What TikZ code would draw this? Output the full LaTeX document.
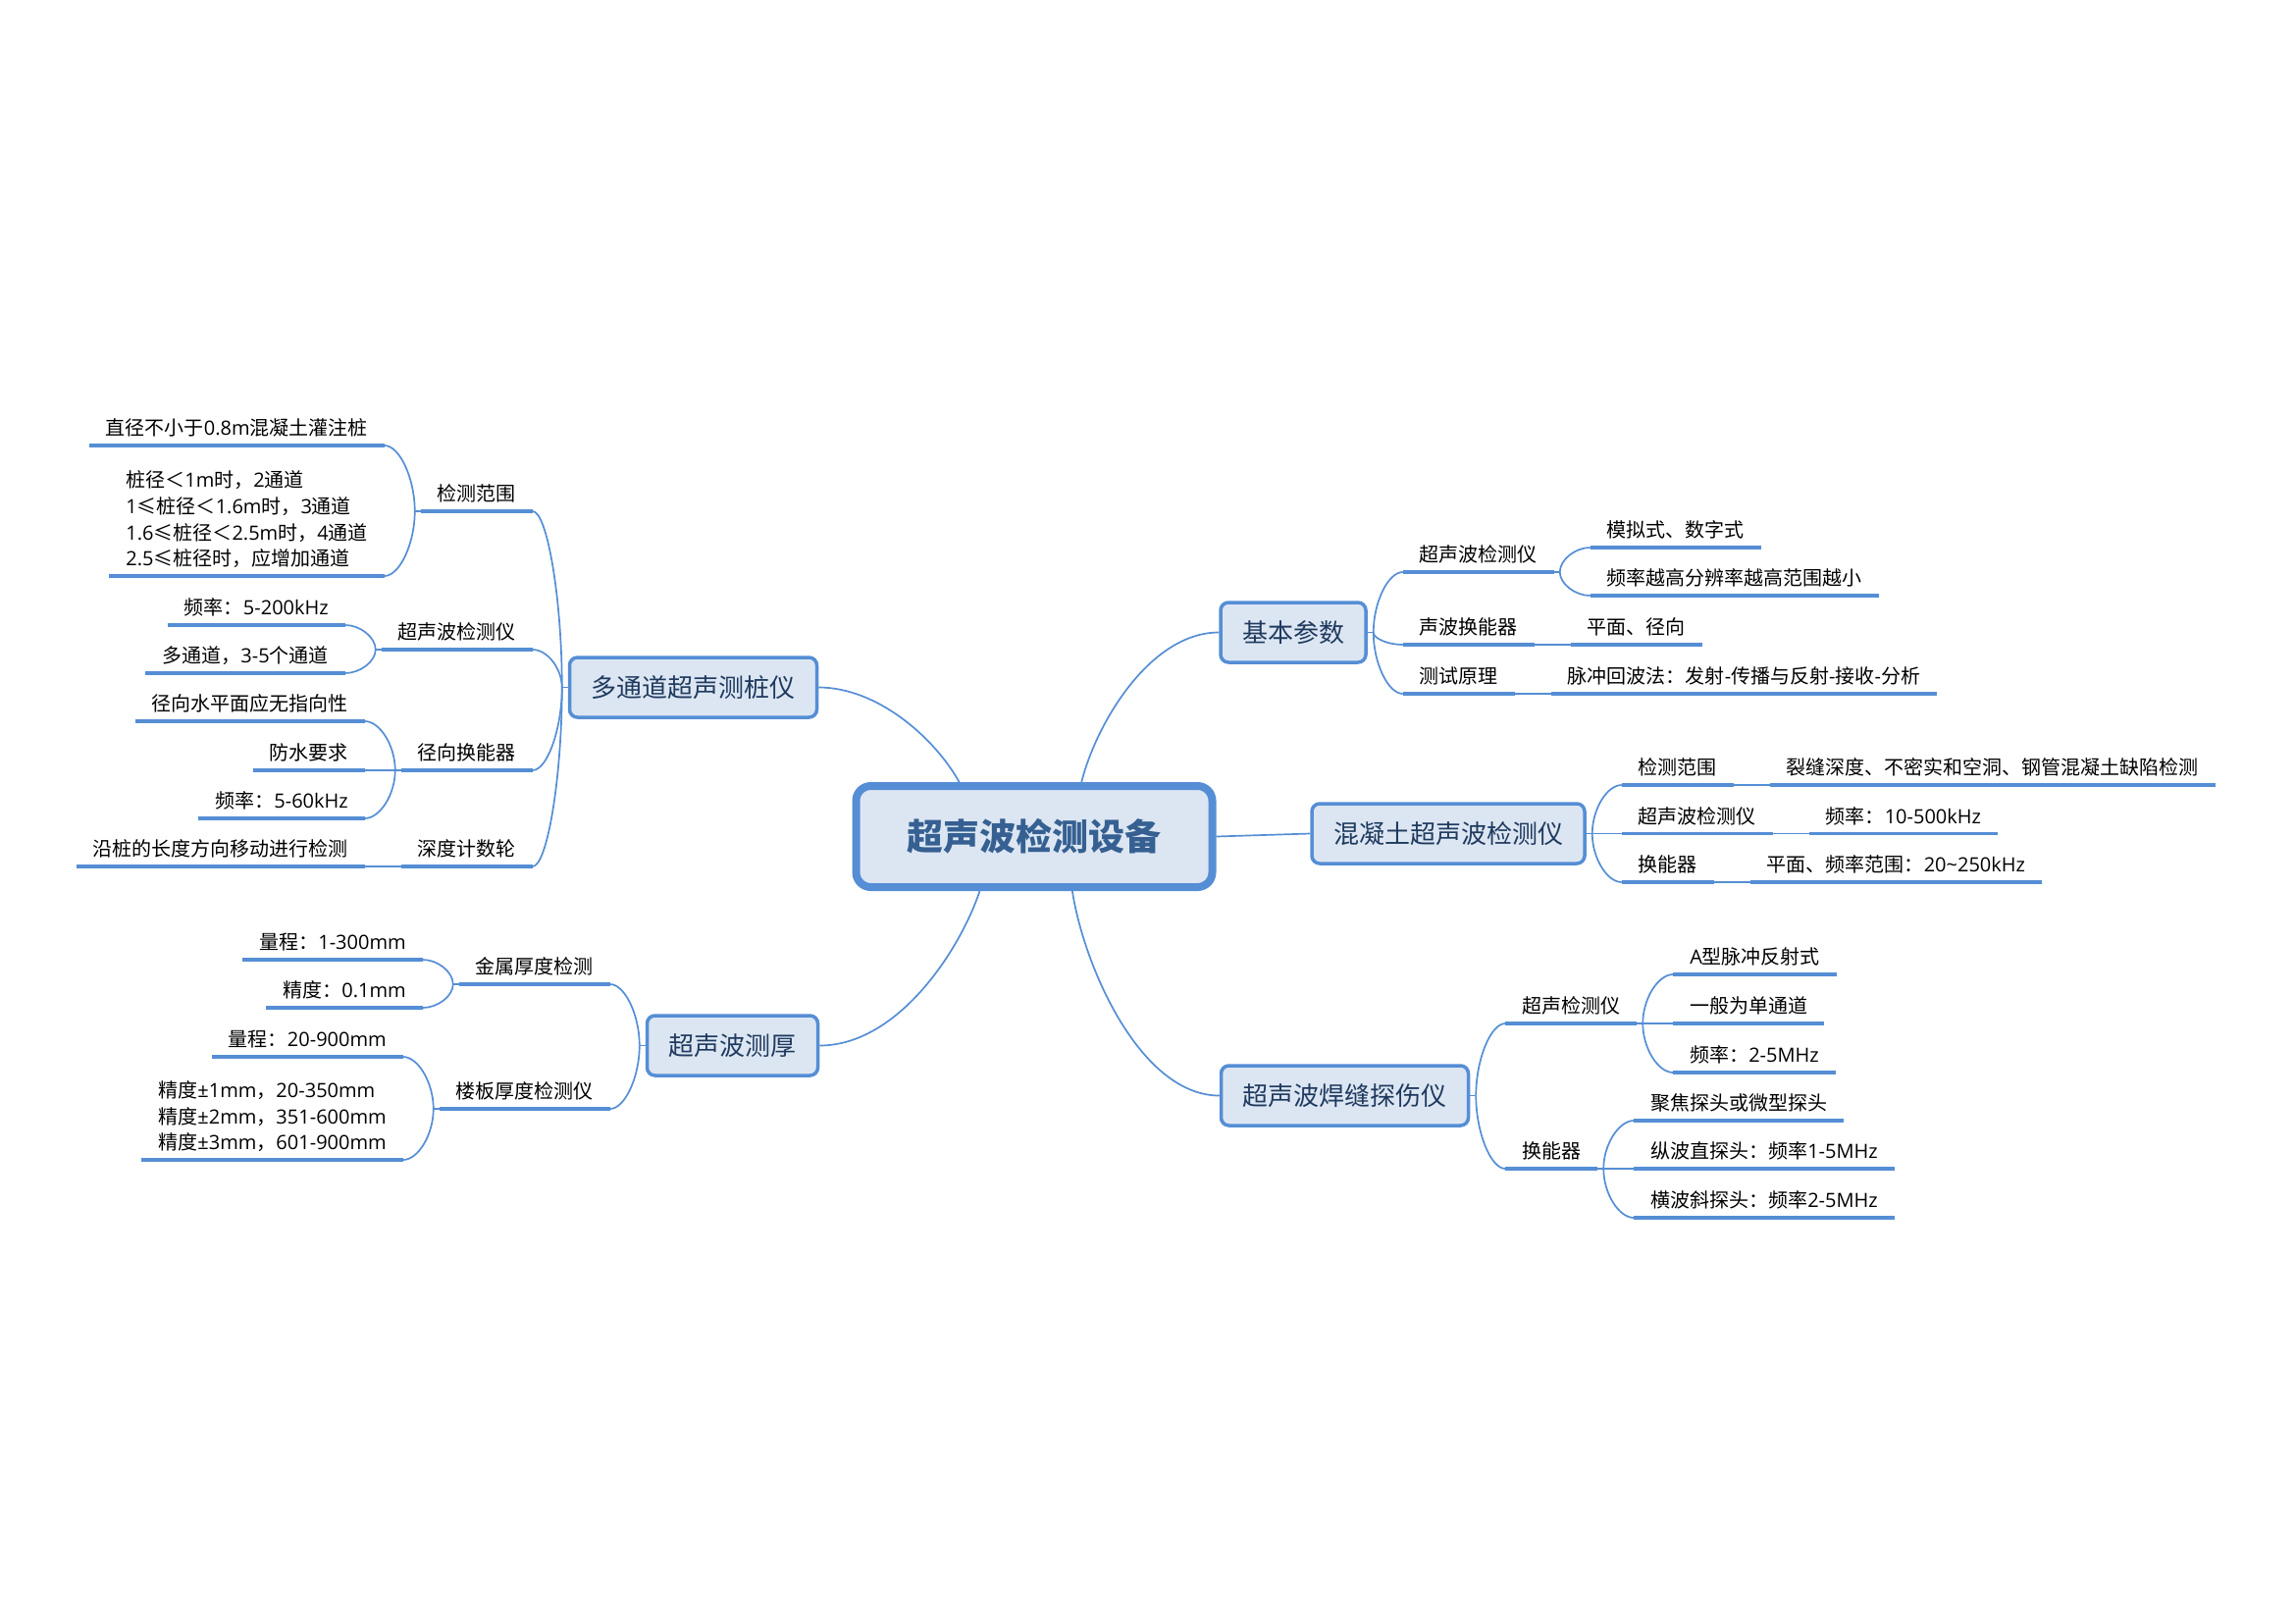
\documentclass[tikz,border=0pt]{standalone}
\usepackage{fontspec}
\setmainfont{Open Sans}
\newfontfamily\latinfont{Open Sans}
\newfontfamily\cjkfont{Noto Sans CJK SC}
% CJK runs in Noto Sans CJK, Latin runs in Open Sans
\XeTeXinterchartokenstate=1
\newXeTeXintercharclass\cjkcls
\newcount\cjkc
\cjkc="4E00 \loop \XeTeXcharclass\cjkc=\cjkcls \advance\cjkc by 1 \ifnum\cjkc<"A000 \repeat
\cjkc="3000 \loop \XeTeXcharclass\cjkc=\cjkcls \advance\cjkc by 1 \ifnum\cjkc<"3040 \repeat
\cjkc="FF00 \loop \XeTeXcharclass\cjkc=\cjkcls \advance\cjkc by 1 \ifnum\cjkc<"FFF0 \repeat
\XeTeXcharclass"2264=\cjkcls
\XeTeXinterchartoks 0 \cjkcls = {\cjkfont}
\XeTeXinterchartoks 4095 \cjkcls = {\cjkfont}
\XeTeXinterchartoks \cjkcls 0 = {\latinfont}
\usepackage{tikz}
\usetikzlibrary{positioning,calc}
\definecolor{m_line}{HTML}{558ED5}
\definecolor{m_fill}{HTML}{DCE6F2}
\definecolor{m_root}{HTML}{366092}
\definecolor{m_topic}{HTML}{1F3A5F}
\newcommand{\mmlink}[2]{\draw[link] (#1) .. controls ($(#1)!.5!(#1 |- #2)$) and ($(#2)!.5!(#1 |- #2)$) .. (#2);}

\begin{document}
\begin{tikzpicture}[
    x=1pt, y=-1pt,
    link/.style={draw=m_line, line width=1.7pt},
    uline/.style={draw=m_line, line width=3.5pt},
    root/.style={draw=m_line, fill=m_fill, line width=8pt, rounded corners=15pt,
        minimum height=103pt, inner xsep=52pt, text=m_root,
        font=\fontsize{37}{44}\selectfont\bfseries},
    topic/.style={draw=m_line, fill=m_fill, line width=3.5pt, rounded corners=8pt,
        minimum height=61pt, inner xsep=22pt, text=m_topic,
        font=\fontsize{26}{31}\selectfont},
    mm/.style={inner xsep=17pt, outer sep=0pt, font=\fontsize{20}{26.7}\selectfont,
        append after command={(\tikzlastnode.south west) edge[uline] (\tikzlastnode.south east)}},
    leaf/.style={mm, inner ysep=6.4pt, text height=15pt, text depth=4pt},
    leafm/.style={mm, inner ysep=8pt, align=left}
]
    \useasboundingbox (0,0) rectangle (2339,1654);

    \node[root] (root) at (1054,852.5) {超声波检测设备};
    \node[topic] (b1) at (706.5,700.5) {多通道超声测桩仪};
    \node[topic] (b2) at (746.5,1065.5) {超声波测厚};
    \node[topic] (b3) at (1318,644.5) {基本参数};
    \node[topic] (b4) at (1476,849.5) {混凝土超声波检测仪};
    \node[topic] (b5) at (1370.5,1116.5) {超声波焊缝探伤仪};

    % 多通道超声测桩仪
    \node[leaf, above left=179.5pt and 36pt of b1.west, anchor=south east] (s11) {检测范围};
    \node[leaf, above left=38.5pt and 36pt of b1.west, anchor=south east] (s12) {超声波检测仪};
    \node[leaf, below left=84.5pt and 36pt of b1.west, anchor=south east] (s13) {径向换能器};
    \node[leaf, below left=182.5pt and 36pt of b1.west, anchor=south east] (s14) {深度计数轮};
    \node[leaf, above left=67pt and 37pt of s11.south west, anchor=south east] (l111) {直径不小于0.8m混凝土灌注桩};
    \node[leafm, below left=66pt and 37pt of s11.south west, anchor=south east] (l112)
        {桩径＜1m时，2通道\\1≤桩径＜1.6m时，3通道\\1.6≤桩径＜2.5m时，4通道\\2.5≤桩径时，应增加通道};
    \node[leaf, above left=25pt and 37pt of s12.south west, anchor=south east] (l121) {频率：5-200kHz};
    \node[leaf, below left=24pt and 37pt of s12.south west, anchor=south east] (l122) {多通道，3-5个通道};
    \node[leaf, above left=50pt and 37pt of s13.south west, anchor=south east] (l131) {径向水平面应无指向性};
    \node[leaf, left=37pt of s13.south west, anchor=south east] (l132) {防水要求};
    \node[leaf, below left=49pt and 37pt of s13.south west, anchor=south east] (l133) {频率：5-60kHz};
    \node[leaf, left=37pt of s14.south west, anchor=south east] (l141) {沿桩的长度方向移动进行检测};

    % 超声波测厚
    \node[leaf, above left=62.5pt and 36pt of b2.west, anchor=south east] (s21) {金属厚度检测};
    \node[leaf, below left=64.5pt and 36pt of b2.west, anchor=south east] (s22) {楼板厚度检测仪};
    \node[leaf, above left=25pt and 37pt of s21.south west, anchor=south east] (l211) {量程：1-300mm};
    \node[leaf, below left=24pt and 37pt of s21.south west, anchor=south east] (l212) {精度：0.1mm};
    \node[leaf, above left=53pt and 37pt of s22.south west, anchor=south east] (l221) {量程：20-900mm};
    \node[leafm, below left=52pt and 37pt of s22.south west, anchor=south east] (l222)
        {精度±1mm，20-350mm\\精度±2mm，351-600mm\\精度±3mm，601-900mm};

    % 基本参数
    \node[leaf, above right=61.5pt and 36pt of b3.east, anchor=south west] (s31) {超声波检测仪};
    \node[leaf, below right=12.5pt and 36pt of b3.east, anchor=south west] (s32) {声波换能器};
    \node[leaf, below right=62.5pt and 36pt of b3.east, anchor=south west] (s33) {测试原理};
    \node[leaf, above right=25pt and 37pt of s31.south east, anchor=south west] (l311) {模拟式、数字式};
    \node[leaf, below right=24pt and 37pt of s31.south east, anchor=south west] (l312) {频率越高分辨率越高范围越小};
    \node[leaf, right=37pt of s32.south east, anchor=south west] (l321) {平面、径向};
    \node[leaf, right=37pt of s33.south east, anchor=south west] (l331) {脉冲回波法：发射-传播与反射-接收-分析};

    % 混凝土超声波检测仪
    \node[leaf, above right=49.5pt and 36pt of b4.east, anchor=south west] (s41) {检测范围};
    \node[leaf, right=36pt of b4.east, anchor=south west] (s42) {超声波检测仪};
    \node[leaf, below right=49.5pt and 36pt of b4.east, anchor=south west] (s43) {换能器};
    \node[leaf, right=37pt of s41.south east, anchor=south west] (l411) {裂缝深度、不密实和空洞、钢管混凝土缺陷检测};
    \node[leaf, right=37pt of s42.south east, anchor=south west] (l421) {频率：10-500kHz};
    \node[leaf, right=37pt of s43.south east, anchor=south west] (l431) {平面、频率范围：20\textasciitilde250kHz};

    % 超声波焊缝探伤仪
    \node[leaf, above right=73.5pt and 36pt of b5.east, anchor=south west] (s51) {超声检测仪};
    \node[leaf, below right=74.5pt and 36pt of b5.east, anchor=south west] (s52) {换能器};
    \node[leaf, above right=50pt and 37pt of s51.south east, anchor=south west] (l511) {A型脉冲反射式};
    \node[leaf, right=37pt of s51.south east, anchor=south west] (l512) {一般为单通道};
    \node[leaf, below right=50pt and 37pt of s51.south east, anchor=south west] (l513) {频率：2-5MHz};
    \node[leaf, above right=49pt and 37pt of s52.south east, anchor=south west] (l521) {聚焦探头或微型探头};
    \node[leaf, right=37pt of s52.south east, anchor=south west] (l522) {纵波直探头：频率1-5MHz};
    \node[leaf, below right=50pt and 37pt of s52.south east, anchor=south west] (l523) {横波斜探头：频率2-5MHz};

    % root to main topics
    \draw[link] (root.144) .. controls +(-25,-45) and +(60,0) .. (b1.east);
    \draw[link] (root.49) .. controls +(15,-60) and +(-70,0) .. (b3.west);
    \draw[link] (root.east) -- (b4.west);
    \draw[link] (root.225) .. controls +(-20,60) and +(80,0) .. (b2.east);
    \draw[link] (root.305) .. controls +(12,78) and +(-80,0) .. (b5.west);

    % main topics to subtopics
    \coordinate (b1j) at ([xshift=-6pt]b1.west);
    \coordinate (b2j) at ([xshift=-6pt]b2.west);
    \coordinate (b3j) at ([xshift=6pt]b3.east);
    \coordinate (b4j) at ([xshift=6pt]b4.east);
    \coordinate (b5j) at ([xshift=6pt]b5.east);
    \draw[link] (b1.west) -- (b1j);
    \draw[link] (b2.west) -- (b2j);
    \draw[link] (b3.east) -- (b3j);
    \draw[link] (b4.east) -- (b4j);
    \draw[link] (b5.east) -- (b5j);
    \foreach \s in {s11,s12,s13,s14} {\mmlink{b1j}{\s.south east}}
    \foreach \s in {s21,s22} {\mmlink{b2j}{\s.south east}}
    \foreach \s in {s31,s32,s33} {\mmlink{b3j}{\s.south west}}
    \foreach \s in {s41,s42,s43} {\mmlink{b4j}{\s.south west}}
    \foreach \s in {s51,s52} {\mmlink{b5j}{\s.south west}}

    % subtopics to leaves
    \foreach \s/\ls in {s11/{l111,l112}, s12/{l121,l122}, s13/{l131,l132,l133},
                        s21/{l211,l212}, s22/{l221,l222}} {
        \coordinate (\s j) at ([xshift=-6pt]\s.south west);
        \draw[link] (\s.south west) -- (\s j);
        \foreach \l in \ls {\mmlink{\s j}{\l.south east}}
    }
    \foreach \s/\ls in {s31/{l311,l312}, s51/{l511,l512,l513}, s52/{l521,l522,l523}} {
        \coordinate (\s j) at ([xshift=6pt]\s.south east);
        \draw[link] (\s.south east) -- (\s j);
        \foreach \l in \ls {\mmlink{\s j}{\l.south west}}
    }
    \draw[link] (s14.south west) -- (l141.south east);
    \draw[link] (s32.south east) -- (l321.south west);
    \draw[link] (s33.south east) -- (l331.south west);
    \draw[link] (s41.south east) -- (l411.south west);
    \draw[link] (s42.south east) -- (l421.south west);
    \draw[link] (s43.south east) -- (l431.south west);
\end{tikzpicture}
\end{document}
